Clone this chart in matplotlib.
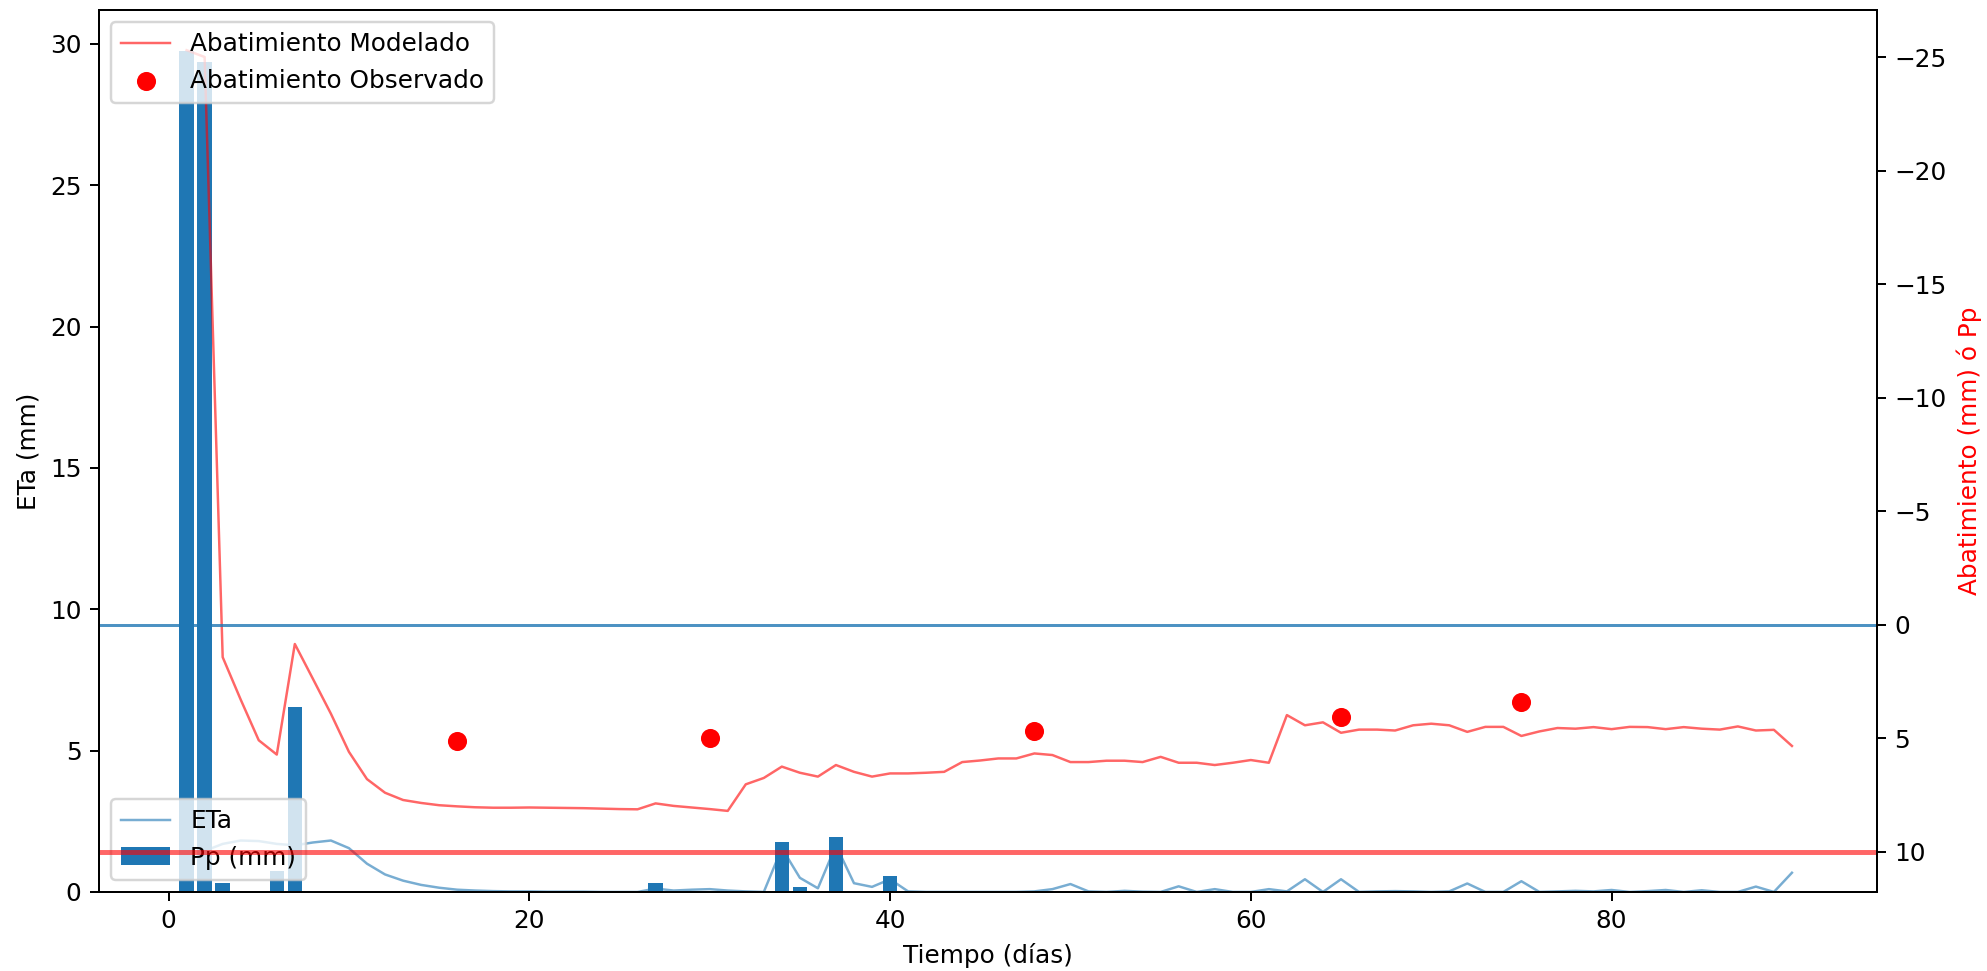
import matplotlib
matplotlib.use("Agg")
import matplotlib.pyplot as plt
import numpy as np

# daily series, days 1..90
dias = np.arange(1, 91)

# precipitation (mm), only non-zero days listed
pp_dias = [1, 2, 3, 6, 7, 27, 34, 35, 37, 40]
pp_vals = [29.75, 29.35, 0.33, 0.75, 6.55, 0.33, 1.76, 0.18, 1.95, 0.58]

eta = [
    1.00, 1.45, 1.70, 1.82, 1.80, 1.70, 1.65, 1.75, 1.82, 1.55,
    1.00, 0.62, 0.40, 0.25, 0.15, 0.08, 0.05, 0.03, 0.02, 0.02,
    0.01, 0.01, 0.01, 0.00, 0.00, 0.00, 0.12, 0.05, 0.08, 0.10,
    0.05, 0.02, 0.00, 1.55, 0.50, 0.13, 1.65, 0.31, 0.18, 0.45,
    0.02, 0.00, 0.00, 0.00, 0.00, 0.00, 0.00, 0.02, 0.10, 0.28,
    0.02, 0.00, 0.04, 0.01, 0.00, 0.20, 0.00, 0.10, 0.00, 0.00,
    0.10, 0.02, 0.45, 0.00, 0.45, 0.00, 0.02, 0.03, 0.02, 0.00,
    0.02, 0.30, 0.00, 0.00, 0.38, 0.00, 0.02, 0.04, 0.02, 0.07,
    0.00, 0.03, 0.07, 0.00, 0.06, 0.00, 0.00, 0.19, 0.00, 0.68,
]

abat_mod = [
    -25.3, -25.0, 1.43, 3.30, 5.09, 5.72, 0.85, 2.38, 3.92, 5.60,
    6.80, 7.40, 7.72, 7.85, 7.95, 8.00, 8.04, 8.06, 8.06, 8.05,
    8.06, 8.07, 8.08, 8.10, 8.12, 8.13, 7.87, 7.98, 8.05, 8.12,
    8.20, 7.03, 6.75, 6.25, 6.52, 6.69, 6.18, 6.48, 6.69, 6.55,
    6.55, 6.52, 6.48, 6.05, 5.98, 5.89, 5.89, 5.67, 5.74, 6.05,
    6.05, 5.99, 5.99, 6.05, 5.82, 6.08, 6.08, 6.18, 6.08, 5.96,
    6.08, 3.98, 4.43, 4.30, 4.76, 4.62, 4.62, 4.66, 4.43, 4.36,
    4.43, 4.72, 4.50, 4.50, 4.90, 4.70, 4.55, 4.58, 4.51, 4.60,
    4.50, 4.51, 4.60, 4.51, 4.58, 4.62, 4.48, 4.66, 4.63, 5.34,
]

obs_dias = [16, 30, 48, 65, 75]
obs_vals = [5.1, 5.0, 4.67, 4.06, 3.42]

pp = np.zeros(len(dias))
for d, v in zip(pp_dias, pp_vals):
    pp[d - 1] = v

DPI = 178
fig = plt.figure(figsize=(1987 / DPI, 971 / DPI), dpi=DPI)
ax1 = fig.add_axes([0.0497, 0.0814, 0.8948, 0.9083])

ax1.plot(dias, eta, color="C0", alpha=0.6, linewidth=1, label="ETa")
ax1.bar(dias, pp, width=0.8, color="C0", label="Pp (mm)")
ax1.set_xlabel("Tiempo (días)")
ax1.set_ylabel("ETa (mm)")
ax1.set_xlim(-3.87, 94.7)
ax1.set_ylim(0, 31.2)
ax1.legend(loc="lower left")

ax2 = ax1.twinx()
ax2.plot(dias, abat_mod, color="red", alpha=0.6, linewidth=1,
         label="Abatimiento Modelado")
ax2.scatter(obs_dias, obs_vals, color="red", s=45, label="Abatimiento Observado")
ax2.axhline(0, color="C0", alpha=0.8, linewidth=1.2)
ax2.axhline(10, color="red", alpha=0.6, linewidth=2)
ax2.set_ylim(11.77, -27.07)
ax2.set_ylabel("Abatimiento (mm) ó Pp", color="red")
ax2.legend(loc="upper left")

fig.savefig("out.png", dpi=DPI)
